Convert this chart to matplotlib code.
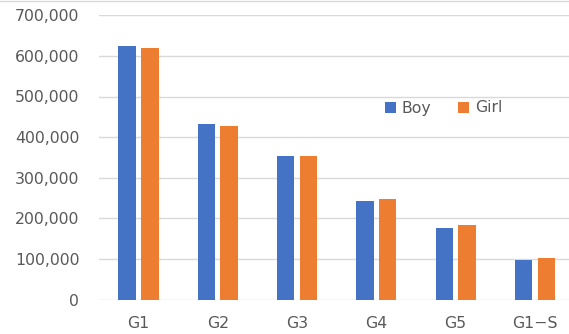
import matplotlib
matplotlib.use("Agg")
import matplotlib.pyplot as plt
from matplotlib.lines import Line2D
from matplotlib.ticker import FuncFormatter
import numpy as np

categories = ["G1", "G2", "G3", "G4", "G5", "G1\u2212S"]
boy = [625000, 432000, 353000, 243000, 175000, 97000]
girl = [619000, 428000, 353000, 248000, 184000, 101000]
series_names = ["Boy", "Girl"]
yticks = [0, 100000, 200000, 300000, 400000, 500000, 600000, 700000]

BLUE = "#4472C4"
ORANGE = "#ED7D31"
TEXT = "#595959"
GRID = "#D9D9D9"

plt.rcParams["font.family"] = ["DejaVu Sans"]
W, H = 569, 334
fig = plt.figure(figsize=(W / 100, H / 100), dpi=100)

left = 98.8 / W
bottom = (H - 299.5) / H
height = (299.5 - 15.3) / H
width = 475.8 / W
ax = fig.add_axes([left, bottom, width, height])

x = np.arange(len(categories))
bw = 0.22
off = 0.143
ax.bar(x - off, boy, bw, color=BLUE, label=series_names[0], zorder=3)
ax.bar(x + off, girl, bw, color=ORANGE, label=series_names[1], zorder=3)

ax.set_xlim(-0.5, len(categories) - 0.5)
ax.set_ylim(0, 700000)
ax.set_yticks(yticks)
ax.yaxis.set_major_formatter(FuncFormatter(lambda v, p: f"{int(v):,}"))
ax.set_xticks(x)
ax.set_xticklabels(categories)

ax.grid(axis="y", color=GRID, linewidth=1.0, zorder=0)
ax.set_axisbelow(True)
for s in ax.spines.values():
    s.set_visible(False)
ax.tick_params(axis="both", length=0, labelsize=11.3, colors=TEXT)
ax.tick_params(axis="y", pad=14.0)
ax.tick_params(axis="x", pad=11.8)

leg = fig.legend(loc="center", bbox_to_anchor=(443.5 / W, 1 - 108 / H),
                 ncol=2, frameon=False, fontsize=11.3,
                 handlelength=0.7, handleheight=0.7, handletextpad=0.4,
                 columnspacing=1.65, borderpad=0, borderaxespad=0)
for t in leg.get_texts():
    t.set_color(TEXT)

fig.add_artist(Line2D([0, 1], [1 - 0.6 / H, 1 - 0.6 / H], transform=fig.transFigure,
                      color=GRID, linewidth=1.0))

fig.savefig("out.png", dpi=100)
